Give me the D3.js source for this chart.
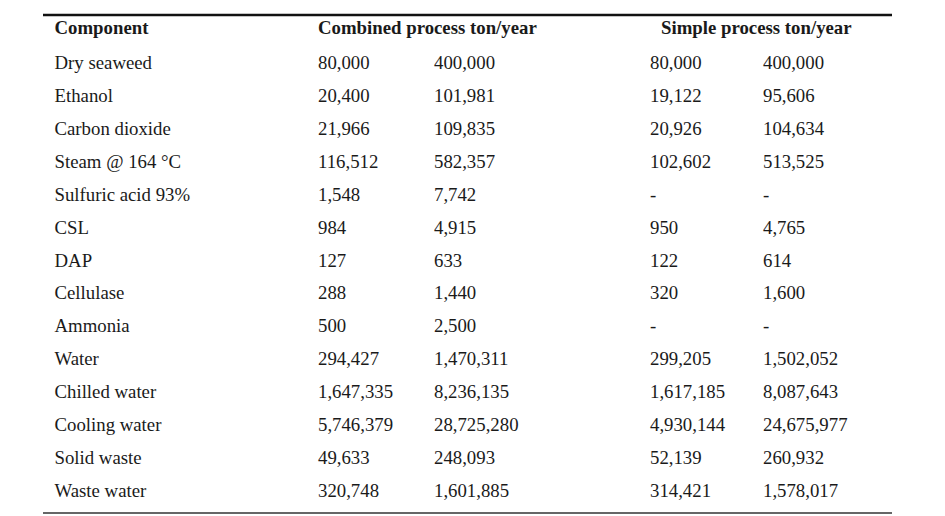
<!DOCTYPE html>
<html><head><meta charset="utf-8">
<script src="https://cdn.jsdelivr.net/npm/d3@7/dist/d3.min.js"></script>
<style>html,body{margin:0;padding:0;background:#fff;}svg{display:block;}</style>
</head><body>
<script>
const components = ["Dry seaweed","Ethanol","Carbon dioxide","Steam @ 164 \u00B0C","Sulfuric acid 93%","CSL","DAP","Cellulase","Ammonia","Water","Chilled water","Cooling water","Solid waste","Waste water"];
const combinedA = ["80,000","20,400","21,966","116,512","1,548","984","127","288","500","294,427","1,647,335","5,746,379","49,633","320,748"];
const combinedB = ["400,000","101,981","109,835","582,357","7,742","4,915","633","1,440","2,500","1,470,311","8,236,135","28,725,280","248,093","1,601,885"];
const simpleA = ["80,000","19,122","20,926","102,602","-","950","122","320","-","299,205","1,617,185","4,930,144","52,139","314,421"];
const simpleB = ["400,000","95,606","104,634","513,525","-","4,765","614","1,600","-","1,502,052","8,087,643","24,675,977","260,932","1,578,017"];
const headers = ["Component","Combined process ton/year","Simple process ton/year"];

const W = 945, H = 516;
const svg = d3.select("body").append("svg").attr("width", W).attr("height", H);
const font = "'Liberation Serif','Times New Roman',serif";
const fs = 18.8;

const y = d3.scalePoint().domain(components).range([69.2, 496.8]);
const headerY = 33.5;
const x = d3.scaleOrdinal().domain(["comp","ca","cb","sa","sb","h3"]).range([54.5, 318, 434, 650, 763, 661]);

svg.append("line").attr("x1",43).attr("x2",892).attr("y1",15).attr("y2",15).attr("stroke","#111").attr("stroke-width",2.5);
svg.append("line").attr("x1",43).attr("x2",892).attr("y1",513).attr("y2",513).attr("stroke","#333").attr("stroke-width",1.5);

const hdr = [[headers[0],"comp"],[headers[1],"ca"],[headers[2],"h3"]];
svg.selectAll("text.h").data(hdr).join("text").attr("class","h")
  .attr("x", d => x(d[1])).attr("y", headerY)
  .attr("font-family", font).attr("font-size", fs).attr("font-weight","bold").attr("fill","#1a1a1a")
  .text(d => d[0]);

const cols = [[components,"comp"],[combinedA,"ca"],[combinedB,"cb"],[simpleA,"sa"],[simpleB,"sb"]];
cols.forEach(([arr,key]) => {
  svg.append("g").selectAll("text").data(arr).join("text")
    .attr("x", x(key)).attr("y", (d,i) => y(components[i]))
    .attr("font-family", font).attr("font-size", fs).attr("fill","#1a1a1a")
    .text(d => d);
});
</script>
</body></html>
